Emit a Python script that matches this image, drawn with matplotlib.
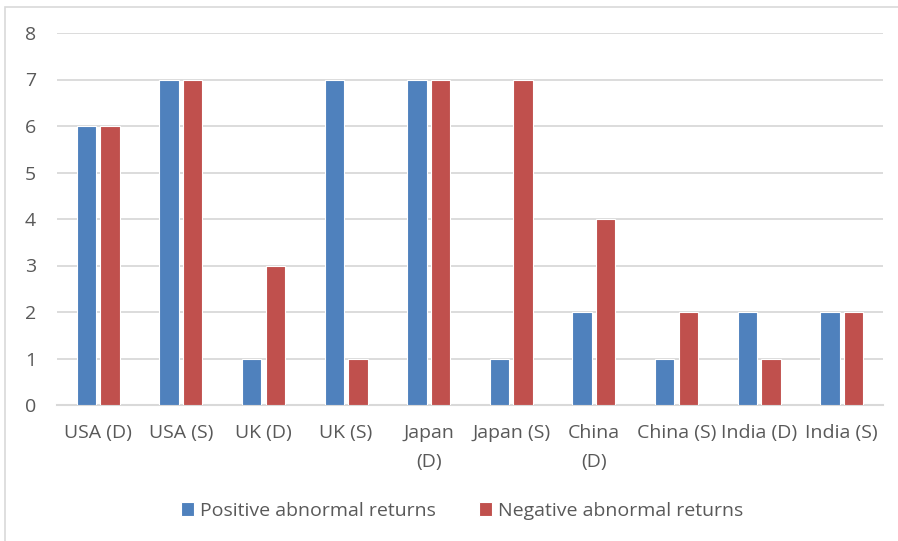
import numpy as np
import matplotlib
matplotlib.use("Agg")
import matplotlib.pyplot as plt
from matplotlib.patches import Rectangle

categories = ["USA (D)", "USA (S)", "UK (D)", "UK (S)", "Japan\n(D)",
              "Japan (S)", "China\n(D)", "China (S)", "India (D)", "India (S)"]
positive = [6, 7, 1, 7, 7, 1, 2, 1, 2, 2]
negative = [6, 7, 3, 1, 7, 7, 4, 2, 1, 2]

plt.rcParams['font.family'] = ['Open Sans', 'DejaVu Sans']

fig = plt.figure(figsize=(8.98, 5.41), dpi=100)
ax = fig.add_axes([57 / 898, 1 - 405 / 541, 826 / 898, 372 / 541])

# light chart border (runs off the right and bottom edge)
fig.patches.append(Rectangle((4.5 / 898, -0.1), 1.2, 1 - 6.5 / 541 + 0.1,
                             transform=fig.transFigure, fill=False,
                             edgecolor="#D9D9D9", linewidth=1.2))

x = np.arange(len(categories))
w = 0.235
ax.bar(x - 0.142, positive, w, color="#4F81BD", edgecolor="white",
       linewidth=0.8, label="Positive abnormal returns", zorder=3)
ax.bar(x + 0.142, negative, w, color="#C0504D", edgecolor="white",
       linewidth=0.8, label="Negative abnormal returns", zorder=3)

ax.set_xlim(-0.5, len(categories) - 0.5)
ax.set_ylim(0, 8)
ax.set_yticks(range(0, 9))
ax.yaxis.grid(True, color="#D9D9D9", linewidth=1.3, zorder=0)
ax.set_axisbelow(True)
for s in ["top", "right", "left"]:
    ax.spines[s].set_visible(False)
ax.spines["bottom"].set_color("#D9D9D9")
ax.spines["bottom"].set_linewidth(1.5)
ax.tick_params(axis="both", length=0, colors="#595959", labelsize=14)
ax.tick_params(axis="y", pad=15)
ax.tick_params(axis="x", pad=14)
ax.set_xticks(x)
ax.set_xticklabels(categories, linespacing=1.75)

leg = fig.legend(loc="center", bbox_to_anchor=(462 / 898, 1 - 511 / 541), ncol=2,
                 frameon=False, fontsize=14, handlelength=0.7, handleheight=0.7,
                 handletextpad=0.3, columnspacing=2.2)
for t in leg.get_texts():
    t.set_color("#595959")

fig.savefig("out.png", dpi=100)
